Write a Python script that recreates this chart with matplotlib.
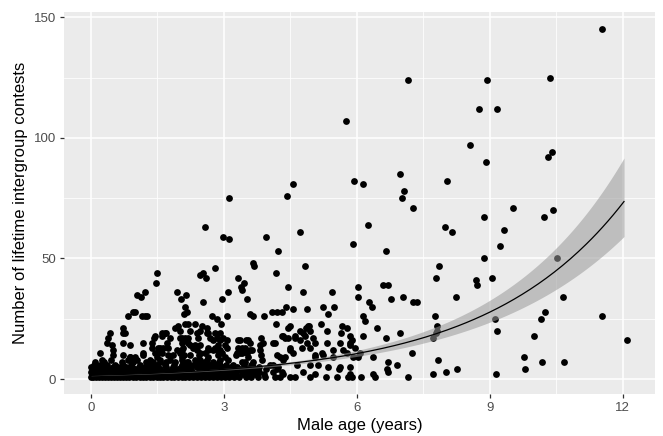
import matplotlib
matplotlib.use("Agg")
import matplotlib.pyplot as plt
import numpy as np

# ---------------- data ----------------
# dense bottom rows: ages of males with a given lifetime contest count
age_c1 = [0.00, 0.05, 0.12, 0.18, 0.25, 0.31, 0.38, 0.44, 0.52, 0.58, 0.66, 0.72, 0.80, 0.86,
          0.95, 1.02, 1.10, 1.17, 1.25, 1.33, 1.40, 1.48, 1.56, 1.63, 1.72, 1.80, 1.88, 1.96,
          2.05, 2.13, 2.22, 2.30, 2.40, 2.48, 2.57, 2.66, 2.75, 2.84, 2.93, 3.02, 3.12, 3.22,
          3.35, 3.50, 3.62, 3.78, 3.92, 4.15, 4.27, 4.49, 4.60, 4.94, 5.30, 5.56, 5.80, 5.89,
          6.10, 6.41, 7.16]
age_c2 = [0.02, 0.10, 0.22, 0.33, 0.41, 0.55, 0.63, 0.77, 0.90, 0.98, 1.13, 1.21, 1.36, 1.44,
          1.59, 1.67, 1.83, 1.92, 2.08, 2.18, 2.35, 2.52, 2.70, 2.88, 3.05, 3.15, 3.28, 3.42,
          3.55, 3.70, 3.90, 4.33, 5.06, 5.85, 6.37, 7.72, 9.14]
age_c3 = [0.00, 0.08, 0.16, 0.28, 0.36, 0.47, 0.60, 0.69, 0.83, 0.93, 1.06, 1.19, 1.29, 1.42,
          1.53, 1.65, 1.76, 1.90, 2.01, 2.14, 2.27, 2.44, 2.62, 2.80, 2.97, 3.15, 3.28, 3.40,
          3.52, 3.66, 3.80, 4.11, 4.31, 4.79, 6.70, 8.01]
age_c4 = [0.04, 0.14, 0.26, 0.39, 0.50, 0.64, 0.75, 0.88, 1.00, 1.15, 1.27, 1.40, 1.55, 1.69,
          1.82, 1.97, 2.10, 2.25, 2.45, 2.55, 2.66, 2.78, 2.90, 3.02, 3.10, 3.20, 3.35, 3.54,
          3.70, 3.95, 4.20, 5.60, 6.68, 8.26, 9.80]
age_c5 = [0.01, 0.12, 0.24, 0.35, 0.49, 0.62, 0.78, 0.92, 1.08, 1.22, 1.38, 1.52, 1.70, 1.86,
          2.02, 2.20, 2.40, 2.50, 2.60, 2.70, 2.85, 3.00, 3.15, 3.30, 3.45, 3.66, 3.80, 4.22,
          5.35, 5.62, 5.85]
age_c6 = [0.06, 0.20, 0.37, 0.55, 0.72, 0.90, 1.10, 1.30, 1.48, 1.66, 1.88, 2.05, 2.15, 2.30,
          2.42, 2.55, 2.68, 2.80, 2.92, 3.05, 3.20, 3.45, 3.60, 4.04, 4.11, 4.65, 4.94, 5.12,
          6.90]
age_c7 = [0.10, 0.30, 0.69, 0.95, 1.25, 1.40, 1.56, 1.70, 1.90, 2.16, 2.20, 2.48, 2.57, 2.75,
          2.88, 3.41, 3.48, 3.66, 6.70, 10.18, 10.68]
age_c8 = [0.24, 0.45, 0.83, 1.03, 1.33, 1.55, 1.78, 2.05, 2.35, 2.45, 2.62, 2.90, 3.10, 3.86,
          4.33, 7.83]

# scattered points above the dense band: (age in years, number of contests)
upper_points = [
    (0.88, 9), (1.00, 9), (1.48, 9), (2.05, 9), (2.65, 9), (3.02, 9), (3.54, 9), (4.27, 9),
    (4.38, 9), (5.06, 9), (5.46, 9), (5.91, 9), (6.03, 9), (6.37, 9), (9.77, 9), (0.88, 9),
    (0.50, 10), (1.18, 10), (1.86, 10), (2.24, 10), (2.43, 10), (2.87, 10), (3.28, 10),
    (3.84, 10), (4.20, 10), (5.06, 10), (5.24, 10), (1.74, 10), (0.73, 10), (2.10, 10),
    (0.20, 11), (1.18, 11), (1.48, 11), (2.95, 11), (3.30, 11), (3.41, 11), (3.52, 11),
    (4.56, 11), (5.21, 11), (5.78, 11), (6.07, 11), (7.25, 11), (2.46, 11), (2.57, 11),
    (3.36, 11), (1.44, 11), (1.60, 11), (2.00, 11),
    (0.50, 12), (1.93, 12), (3.59, 12), (3.81, 12), (4.49, 12), (5.46, 12), (5.69, 12),
    (2.39, 12), (2.65, 12), (2.76, 12), (2.84, 12), (2.91, 12), (3.33, 12), (3.63, 12),
    (2.05, 12),
    (1.37, 13), (1.56, 13), (1.74, 13), (2.65, 13), (2.80, 13), (3.07, 13), (3.32, 13),
    (3.41, 13), (3.47, 13), (4.49, 13), (4.76, 13), (4.94, 13), (5.96, 13), (2.31, 13),
    (1.52, 13), (1.63, 13), (2.08, 13),
    (0.47, 14), (0.88, 14), (2.24, 14), (2.35, 14), (2.46, 14), (2.87, 14), (3.02, 14),
    (3.81, 14), (5.85, 14),
    (0.35, 15), (0.72, 15), (1.17, 15), (1.38, 15), (1.71, 15), (2.05, 15), (3.59, 15),
    (3.88, 15), (4.10, 15), (4.15, 15), (4.88, 15), (5.06, 15), (5.33, 15), (5.62, 15),
    (5.85, 15), (2.20, 15),
    (3.06, 16), (3.32, 16), (3.36, 16), (3.50, 16), (4.72, 16), (5.89, 16), (12.10, 16),
    (2.76, 16), (2.91, 16), (3.55, 16), (2.12, 16),
    (0.38, 17), (1.42, 17), (1.78, 17), (2.00, 17), (2.12, 17), (2.20, 17), (2.42, 17),
    (2.68, 17), (2.84, 17), (2.98, 17), (3.83, 17), (4.38, 17), (4.45, 17), (4.60, 17),
    (5.01, 17), (6.66, 17), (7.72, 17), (2.05, 17),
    (4.31, 18), (4.33, 18), (4.60, 18), (4.83, 18), (5.85, 18), (6.14, 18), (10.00, 18),
    (1.44, 18), (1.60, 18),
    (0.43, 19), (0.72, 19), (0.77, 19), (1.60, 19), (1.69, 19), (2.39, 19), (2.61, 19),
    (2.65, 19), (2.80, 19), (4.79, 19), (5.64, 19), (6.98, 19), (7.79, 19), (1.67, 19),
    (2.91, 19),
    (2.00, 20), (2.23, 20), (4.72, 20), (4.94, 20), (5.33, 20), (7.81, 20), (9.16, 20),
    (2.46, 20),
    (0.72, 21), (1.90, 21), (2.62, 21), (4.45, 21), (4.85, 21), (5.78, 21), (6.46, 21),
    (1.97, 22), (2.50, 22), (4.49, 22), (4.90, 22), (4.92, 22), (5.67, 22), (7.81, 22),
    (2.12, 23), (2.20, 23), (2.35, 23), (2.93, 23), (4.18, 23), (5.19, 23),
    (6.18, 24), (2.84, 25), (9.12, 25), (10.16, 25),
    (0.84, 26), (1.15, 26), (1.22, 26), (1.26, 26), (2.73, 26), (3.07, 26), (3.66, 26),
    (3.90, 26), (6.14, 26), (7.77, 26), (11.53, 26),
    (2.10, 27), (3.59, 27), (5.35, 27),
    (0.95, 28), (0.99, 28), (2.17, 28), (4.09, 28), (4.20, 28), (4.31, 28), (10.25, 28),
    (4.56, 29), (4.88, 29),
    (2.12, 30), (4.40, 30), (5.24, 30), (5.49, 30), (6.34, 30),
    (2.53, 32), (6.28, 32), (7.27, 32), (7.36, 32),
    (2.03, 33), (2.96, 33), (3.52, 33), (6.77, 33),
    (1.13, 34), (6.03, 34), (7.04, 34), (8.24, 34), (10.65, 34),
    (1.04, 35), (2.14, 35),
    (1.22, 36), (1.94, 36), (3.09, 36), (4.79, 36), (5.44, 36),
    (3.41, 37), (3.38, 38), (4.45, 38), (6.03, 38),
    (6.59, 39), (6.70, 39), (8.71, 39),
    (1.47, 40), (3.45, 40), (8.69, 41),
    (2.60, 42), (3.32, 42), (7.79, 42), (9.05, 42), (2.46, 43),
    (1.49, 44), (2.53, 44), (4.18, 44), (2.80, 46),
    (3.68, 47), (4.83, 47), (7.86, 47), (3.66, 48),
    (8.87, 50), (10.52, 50), (4.22, 53), (6.66, 53), (9.23, 55), (5.91, 56),
    (3.11, 58), (2.98, 59), (3.95, 59), (4.72, 61), (8.15, 61), (9.32, 62),
    (2.57, 63), (7.99, 63), (6.25, 64), (8.87, 67), (10.23, 67), (10.43, 70),
    (7.27, 71), (9.53, 71), (3.11, 75), (7.02, 75), (4.42, 76), (7.07, 78),
    (4.56, 81), (6.14, 81), (5.94, 82), (8.04, 82), (6.98, 85), (8.92, 90),
    (10.32, 92), (10.41, 94), (8.56, 97), (5.76, 107), (8.76, 112), (9.16, 112),
    (7.16, 124), (8.94, 124), (10.36, 125), (11.53, 145),
]

# fitted log-linear (Poisson-type) curve and its confidence band
fit_intercept = 0.425      # log scale
fit_slope = 0.322          # per year, log scale
ci_base = 0.00953          # squared band half-width (log scale) at its narrowest
ci_growth = 0.000474       # growth of squared half-width per year^2
ci_centre_age = 3.0
fit_age_range = [0.0, 12.03]

x_ticks = [0, 3, 6, 9, 12]
y_ticks = [0, 50, 100, 150]
x_label = "Male age (years)"
y_label = "Number of lifetime intergroup contests"

# ---------------- assemble ----------------
dense_rows = [age_c1, age_c2, age_c3, age_c4, age_c5, age_c6, age_c7, age_c8]
ages = []
counts = []
for k, row in enumerate(dense_rows, start=1):
    ages += row
    counts += [k] * len(row)
ages += [p[0] for p in upper_points]
counts += [p[1] for p in upper_points]
ages = np.array(ages)
counts = np.array(counts)

plt.rcParams["font.family"] = ["Liberation Sans", "DejaVu Sans"]

fig = plt.figure(figsize=(6.63, 4.36), dpi=100)
ax = fig.add_axes([64 / 663, 1 - 394 / 436, (655 - 64) / 663, (394 - 12) / 436])
ax.set_facecolor("#EBEBEB")
for s in ax.spines.values():
    s.set_visible(False)

ax.set_xlim(-0.61, 12.73)
ax.set_ylim(-6.2, 152.2)
ax.set_xticks(x_ticks)
ax.set_yticks(y_ticks)
ax.set_xticks([1.5, 4.5, 7.5, 10.5], minor=True)
ax.set_yticks([25, 75, 125], minor=True)
ax.grid(which="major", color="white", linewidth=1.1)
ax.grid(which="minor", color="white", linewidth=0.55)
ax.set_axisbelow(True)
ax.tick_params(which="major", length=3.2, width=0.9, color="#333333",
               labelcolor="#4D4D4D", labelsize=9.5, pad=2.5)
ax.tick_params(which="minor", length=0)

# points
ax.scatter(ages, counts, s=24, color="black", linewidths=0, zorder=2)

# fitted curve and band
xf = np.linspace(fit_age_range[0], fit_age_range[1], 200)
eta = fit_intercept + fit_slope * xf
hw = np.sqrt(ci_base + ci_growth * (xf - ci_centre_age) ** 2)
ax.fill_between(xf, np.exp(eta - hw), np.exp(eta + hw), color="#999999", alpha=0.55,
                linewidth=0, zorder=3)
ax.plot(xf, np.exp(eta), color="black", linewidth=0.9, zorder=4)

ax.set_xlabel(x_label, fontsize=12, color="black", labelpad=3)
ax.set_ylabel(y_label, fontsize=12, color="black", labelpad=4)

fig.savefig("out.png", dpi=100)
